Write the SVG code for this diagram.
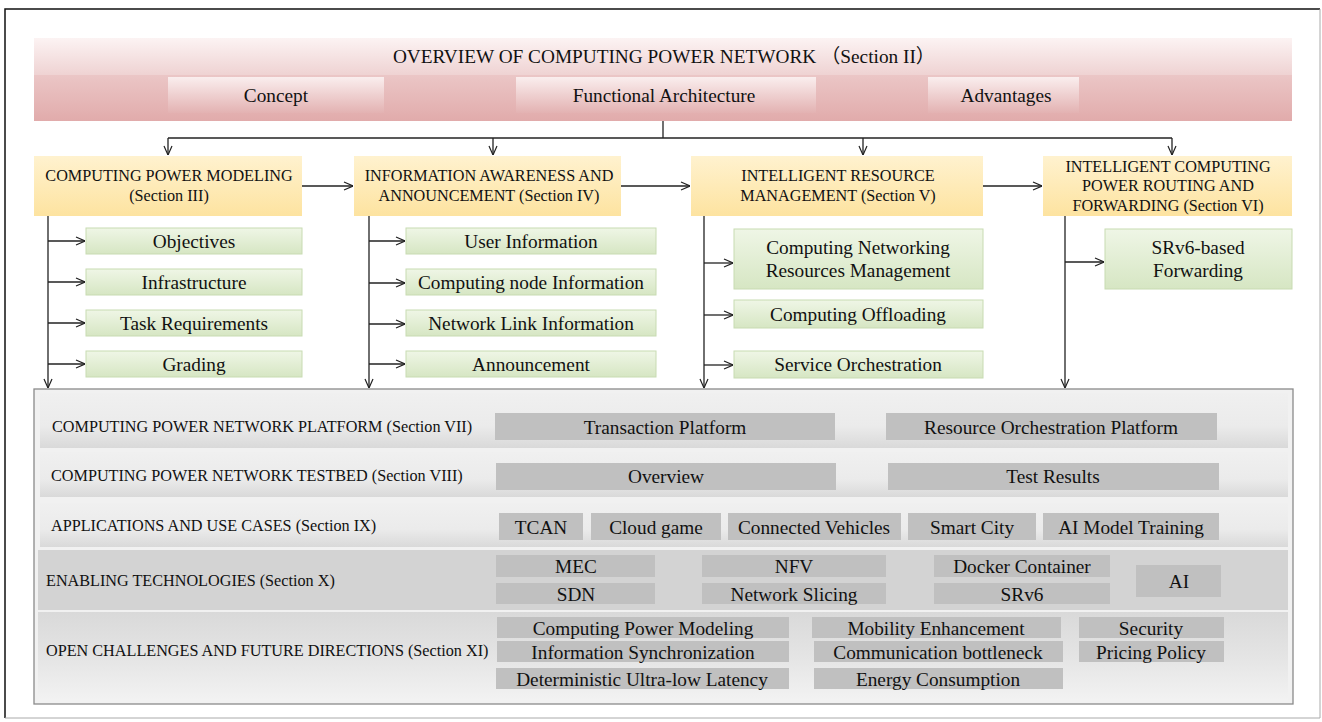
<svg xmlns="http://www.w3.org/2000/svg" width="1322" height="722" viewBox="0 0 1322 722">
<style>
text{font-family:"Liberation Serif","Noto Sans CJK SC",serif;fill:#111;text-anchor:middle;dominant-baseline:central}
.t17{font-size:19.3px}
.t14{font-size:16.2px}
.lab{font-size:16.2px;text-anchor:start}
.con{fill:none;stroke:#222;stroke-width:1.3}
.green{fill:url(#gGreen);stroke:#c8dbb2;stroke-width:1}
.yel{fill:url(#gYel)}
.gbox{fill:#c0c0c0}
</style>
<defs>
<linearGradient id="gHead" x1="0" y1="0" x2="0" y2="1">
<stop offset="0" stop-color="#fcf3f3"/><stop offset="0.44" stop-color="#efd3d3"/><stop offset="0.45" stop-color="#ebc6c6"/><stop offset="1" stop-color="#e1abab"/>
</linearGradient>
<linearGradient id="gSub" x1="0" y1="0" x2="0" y2="1">
<stop offset="0" stop-color="#faeeee"/><stop offset="1" stop-color="#e3b2b2"/>
</linearGradient>
<linearGradient id="gYel" x1="0" y1="0" x2="0" y2="1">
<stop offset="0" stop-color="#fff2cf"/><stop offset="1" stop-color="#fde3a0"/>
</linearGradient>
<linearGradient id="gGreen" x1="0" y1="0" x2="0" y2="1">
<stop offset="0" stop-color="#eff6e6"/><stop offset="1" stop-color="#d6e6c3"/>
</linearGradient>
<linearGradient id="gBandA" x1="0" y1="0" x2="0" y2="1">
<stop offset="0" stop-color="#f0f0f0"/><stop offset="0.6" stop-color="#ebebeb"/><stop offset="1" stop-color="#d9d9d9"/>
</linearGradient>
<linearGradient id="gBandB" x1="0" y1="0" x2="0" y2="1">
<stop offset="0" stop-color="#d9d9d9"/><stop offset="0.5" stop-color="#e4e4e4"/><stop offset="1" stop-color="#f2f2f2"/>
</linearGradient>
<marker id="arr" viewBox="0 0 10 10" refX="10" refY="5" markerWidth="10" markerHeight="10" markerUnits="userSpaceOnUse" orient="auto">
<path d="M1,1 L10,5 L1,9" fill="none" stroke="#222" stroke-width="1.2"/>
</marker>
</defs>
<rect x="0" y="0" width="1322" height="722" fill="#fff"/>
<path d="M5,718 L5,9 L1320,9" fill="none" stroke="#111" stroke-width="1.5"/>
<path d="M1320,9 L1320,718 L5,718" fill="none" stroke="#aaa" stroke-width="1"/>

<g id="header">
<rect x="34" y="38" width="1258" height="83" fill="url(#gHead)"/>
<text class="t17" x="664" y="56">OVERVIEW OF COMPUTING POWER NETWORK （Section II）</text>
</g>
<g id="concept"><rect x="168" y="77" width="216" height="36" fill="url(#gSub)"/><text class="t17" x="276" y="95">Concept</text></g>
<g id="functional"><rect x="516" y="77" width="300" height="36" fill="url(#gSub)"/><text class="t17" x="664" y="95">Functional Architecture</text></g>
<g id="advantages"><rect x="928" y="77" width="151" height="36" fill="url(#gSub)"/><text class="t17" x="1006" y="95">Advantages</text></g>

<g id="cpm"><rect class="yel" x="34" y="156" width="268" height="60"/><text class="t14" x="169" y="176">COMPUTING POWER MODELING</text><text class="t14" x="169" y="196">(Section III)</text></g>
<g id="iaa"><rect class="yel" x="354" y="156" width="267" height="60"/><text class="t14" x="489" y="176">INFORMATION AWARENESS AND</text><text class="t14" x="489" y="196">ANNOUNCEMENT (Section IV)</text></g>
<g id="irm"><rect class="yel" x="691" y="156" width="292" height="60"/><text class="t14" x="838" y="176">INTELLIGENT RESOURCE</text><text class="t14" x="838" y="196">MANAGEMENT (Section V)</text></g>
<g id="icprf"><rect class="yel" x="1043" y="156" width="249" height="60"/><text class="t14" x="1168" y="167">INTELLIGENT COMPUTING</text><text class="t14" x="1168" y="186">POWER ROUTING AND</text><text class="t14" x="1168" y="206">FORWARDING (Section VI)</text></g>

<g id="objectives"><rect class="green" x="86" y="228" width="216" height="26"/><text class="t17" x="194" y="241">Objectives</text></g>
<g id="infrastructure"><rect class="green" x="86" y="269" width="216" height="26"/><text class="t17" x="194" y="282">Infrastructure</text></g>
<g id="taskreq"><rect class="green" x="86" y="310" width="216" height="26"/><text class="t17" x="194" y="323">Task Requirements</text></g>
<g id="grading"><rect class="green" x="86" y="351" width="216" height="26"/><text class="t17" x="194" y="364">Grading</text></g>

<g id="userinfo"><rect class="green" x="406" y="228" width="250" height="26"/><text class="t17" x="531" y="241">User Information</text></g>
<g id="nodeinfo"><rect class="green" x="406" y="269" width="250" height="26"/><text class="t17" x="531" y="282">Computing node Information</text></g>
<g id="linkinfo"><rect class="green" x="406" y="310" width="250" height="26"/><text class="t17" x="531" y="323">Network Link Information</text></g>
<g id="announce"><rect class="green" x="406" y="351" width="250" height="26"/><text class="t17" x="531" y="364">Announcement</text></g>

<g id="cnrm"><rect class="green" x="734" y="229" width="249" height="60"/><text class="t17" x="858" y="247">Computing Networking</text><text class="t17" x="858" y="270">Resources Management</text></g>
<g id="offload"><rect class="green" x="734" y="300" width="249" height="28"/><text class="t17" x="858" y="314">Computing Offloading</text></g>
<g id="orch"><rect class="green" x="734" y="351" width="249" height="27"/><text class="t17" x="858" y="364">Service Orchestration</text></g>

<g id="srv6fwd"><rect class="green" x="1105" y="229" width="187" height="60"/><text class="t17" x="1198" y="247">SRv6-based</text><text class="t17" x="1198" y="270">Forwarding</text></g>

<g id="connectors">
<path class="con" d="M663,121 V138"/>
<path class="con" d="M168,138 H1172"/>
<path class="con" d="M168,138 V155" marker-end="url(#arr)"/>
<path class="con" d="M493,138 V155" marker-end="url(#arr)"/>
<path class="con" d="M863,138 V155" marker-end="url(#arr)"/>
<path class="con" d="M1172,138 V155" marker-end="url(#arr)"/>
<path class="con" d="M302,186 H353" marker-end="url(#arr)"/>
<path class="con" d="M621,186 H690" marker-end="url(#arr)"/>
<path class="con" d="M983,186 H1042" marker-end="url(#arr)"/>
<path class="con" d="M48,216 V388" marker-end="url(#arr)"/>
<path class="con" d="M369,216 V388" marker-end="url(#arr)"/>
<path class="con" d="M704,216 V388" marker-end="url(#arr)"/>
<path class="con" d="M1065,216 V388" marker-end="url(#arr)"/>
<path class="con" d="M48,241 H85" marker-end="url(#arr)"/>
<path class="con" d="M48,282 H85" marker-end="url(#arr)"/>
<path class="con" d="M48,323 H85" marker-end="url(#arr)"/>
<path class="con" d="M48,364 H85" marker-end="url(#arr)"/>
<path class="con" d="M369,241 H405" marker-end="url(#arr)"/>
<path class="con" d="M369,283 H405" marker-end="url(#arr)"/>
<path class="con" d="M369,324 H405" marker-end="url(#arr)"/>
<path class="con" d="M369,364 H405" marker-end="url(#arr)"/>
<path class="con" d="M704,263 H733" marker-end="url(#arr)"/>
<path class="con" d="M704,315 H733" marker-end="url(#arr)"/>
<path class="con" d="M704,365 H733" marker-end="url(#arr)"/>
<path class="con" d="M1065,262 H1104" marker-end="url(#arr)"/>
</g>

<g id="bottom">
<rect x="34" y="389" width="1259" height="315" fill="#f1f1f1" stroke="#8a8a8a" stroke-width="1.3"/>
<rect x="40" y="393" width="1248" height="55" fill="url(#gBandA)"/>
<rect x="40" y="452" width="1248" height="45" fill="url(#gBandA)"/>
<rect x="40" y="503" width="1248" height="44" fill="url(#gBandA)"/>
<rect x="38" y="550" width="1250" height="60" fill="#d3d3d3"/>
<rect x="38" y="612" width="1250" height="88" fill="url(#gBandB)"/>
</g>

<g id="platform">
<text class="lab" x="52" y="427">COMPUTING POWER NETWORK PLATFORM (Section VII)</text>
<rect class="gbox" x="495" y="413" width="340" height="27"/><text class="t17" x="665" y="427">Transaction Platform</text>
<rect class="gbox" x="886" y="413" width="331" height="27"/><text class="t17" x="1051" y="427">Resource Orchestration Platform</text>
</g>
<g id="testbed">
<text class="lab" x="51" y="476">COMPUTING POWER NETWORK TESTBED (Section VIII)</text>
<rect class="gbox" x="496" y="463" width="340" height="27"/><text class="t17" x="666" y="476">Overview</text>
<rect class="gbox" x="888" y="463" width="331" height="27"/><text class="t17" x="1053" y="476">Test Results</text>
</g>
<g id="applications">
<text class="lab" x="51" y="526">APPLICATIONS AND USE CASES (Section IX)</text>
<rect class="gbox" x="499" y="513" width="84" height="27"/><text class="t17" x="541" y="527">TCAN</text>
<rect class="gbox" x="591" y="513" width="130" height="27"/><text class="t17" x="656" y="527">Cloud game</text>
<rect class="gbox" x="728" y="513" width="173" height="27"/><text class="t17" x="814" y="527">Connected Vehicles</text>
<rect class="gbox" x="908" y="513" width="128" height="27"/><text class="t17" x="972" y="527">Smart City</text>
<rect class="gbox" x="1043" y="513" width="176" height="27"/><text class="t17" x="1131" y="527">AI Model Training</text>
</g>
<g id="enabling">
<text class="lab" x="46" y="581">ENABLING TECHNOLOGIES (Section X)</text>
<rect class="gbox" x="496" y="555" width="159" height="22"/><text class="t17" x="576" y="566">MEC</text>
<rect class="gbox" x="496" y="583" width="159" height="21"/><text class="t17" x="576" y="594">SDN</text>
<rect class="gbox" x="702" y="555" width="184" height="22"/><text class="t17" x="794" y="566">NFV</text>
<rect class="gbox" x="702" y="583" width="184" height="21"/><text class="t17" x="794" y="594">Network Slicing</text>
<rect class="gbox" x="934" y="555" width="176" height="22"/><text class="t17" x="1022" y="566">Docker Container</text>
<rect class="gbox" x="934" y="583" width="176" height="21"/><text class="t17" x="1022" y="594">SRv6</text>
<rect class="gbox" x="1136" y="565" width="85" height="32"/><text class="t17" x="1179" y="581">AI</text>
</g>
<g id="challenges">
<text class="lab" x="46" y="651">OPEN CHALLENGES AND FUTURE DIRECTIONS (Section XI)</text>
<rect class="gbox" x="497" y="617" width="292" height="21"/><text class="t17" x="643" y="628">Computing Power Modeling</text>
<rect class="gbox" x="497" y="641" width="292" height="21"/><text class="t17" x="643" y="652">Information Synchronization</text>
<rect class="gbox" x="496" y="668" width="293" height="21"/><text class="t17" x="642" y="679">Deterministic Ultra-low Latency</text>
<rect class="gbox" x="812" y="617" width="249" height="21"/><text class="t17" x="936" y="628">Mobility Enhancement</text>
<rect class="gbox" x="814" y="641" width="249" height="21"/><text class="t17" x="938" y="652">Communication bottleneck</text>
<rect class="gbox" x="814" y="668" width="249" height="21"/><text class="t17" x="938" y="679">Energy Consumption</text>
<rect class="gbox" x="1079" y="617" width="145" height="21"/><text class="t17" x="1151" y="628">Security</text>
<rect class="gbox" x="1079" y="641" width="145" height="21"/><text class="t17" x="1151" y="652">Pricing Policy</text>
</g>
</svg>
